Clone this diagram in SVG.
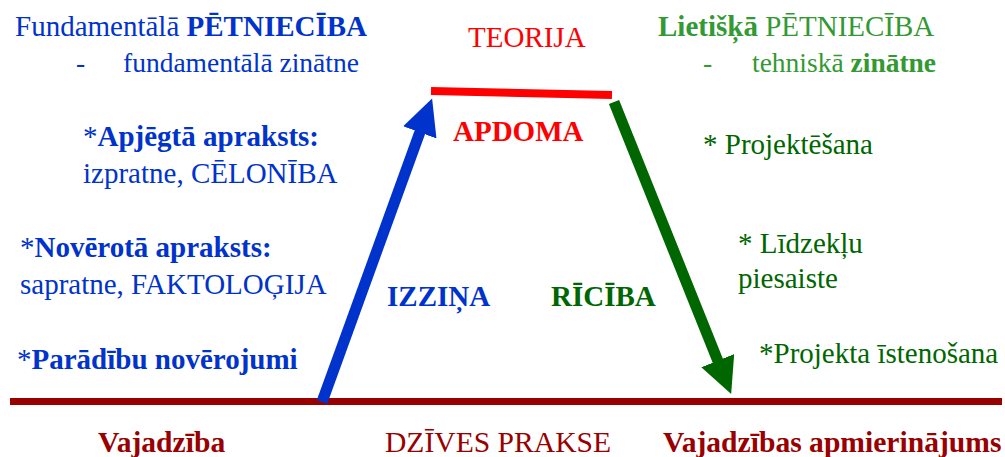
<svg xmlns="http://www.w3.org/2000/svg" width="1005" height="457" viewBox="0 0 1005 457">
<style>
text{font-family:"Liberation Serif","Times New Roman",serif;font-size:29px}
.b{font-weight:bold}
.s{font-size:27.5px}
.l{font-size:29.6px}
.blue{fill:#0033CC}
.red{fill:#FF0000}
.dred{fill:#990000}
.lgreen{fill:#339933}
.dgreen{fill:#006600}
</style>
<defs>
<marker id="hb" markerUnits="userSpaceOnUse" markerWidth="40" markerHeight="40" refX="2" refY="17.7" orient="auto" viewBox="0 0 40 40"><path d="M0,0 L36,17.7 L0,35.4 Z" fill="#0033CC"/></marker>
<marker id="hg" markerUnits="userSpaceOnUse" markerWidth="40" markerHeight="40" refX="2" refY="17.7" orient="auto" viewBox="0 0 40 40"><path d="M0,0 L36,17.7 L0,35.4 Z" fill="#006600"/></marker>
</defs>
<rect width="1005" height="457" fill="#fff"/>
<g id="connectors">
<line id="base-line" x1="10" y1="401.5" x2="1002" y2="401.5" stroke="#990000" stroke-width="7"/>
<line id="theory-line" x1="431" y1="91" x2="612" y2="95" stroke="#FF0000" stroke-width="8"/>
<line id="izzina-arrow" x1="322" y1="402" x2="420.5" y2="130.5" stroke="#0033CC" stroke-width="11" marker-end="url(#hb)"/>
<line id="riciba-arrow" x1="614" y1="102" x2="718.5" y2="362.5" stroke="#006600" stroke-width="11" marker-end="url(#hg)"/>
</g>
<g id="fund">
<text x="15" y="36" class="blue">Fundamentālā <tspan class="b">PĒTNIECĪBA</tspan></text>
<text x="76" y="72" class="blue s">-</text>
<text x="123" y="72" class="blue s">fundamentālā zinātne</text>
</g>
<g id="teorija"><text x="468" y="47" class="red">TEORIJA</text></g>
<g id="liet">
<text x="658" y="36" class="lgreen"><tspan class="b">Lietišķā</tspan> PĒTNIECĪBA</text>
<text x="703" y="72" class="lgreen s">-</text>
<text x="752" y="72" class="lgreen s">tehniskā <tspan class="b">zinātne</tspan></text>
</g>
<g id="apdoma"><text x="453" y="141" class="red b">APDOMA</text></g>
<g id="apjegta">
<text x="83" y="146" class="blue">*<tspan class="b">Apjēgtā apraksts:</tspan></text>
<text x="83" y="183" class="blue">izpratne, CĒLONĪBA</text>
</g>
<g id="noverota">
<text x="20" y="257" class="blue">*<tspan class="b">Novērotā apraksts:</tspan></text>
<text x="20" y="294" class="blue">sapratne, FAKTOLOĢIJA</text>
</g>
<g id="paradibu"><text x="17" y="369" class="blue">*<tspan class="b">Parādību novērojumi</tspan></text></g>
<g id="izzina"><text x="387" y="306" class="blue b">IZZIŅA</text></g>
<g id="riciba"><text x="551" y="306" class="dgreen b">RĪCĪBA</text></g>
<g id="projektesana"><text x="703" y="154" class="dgreen">* Projektēšana</text></g>
<g id="lidzeklu">
<text x="738" y="253" class="dgreen">* Līdzekļu</text>
<text x="738" y="288" class="dgreen">piesaiste</text>
</g>
<g id="istenosana"><text x="759" y="363" class="dgreen">*Projekta īstenošana</text></g>
<g id="vajadziba"><text x="98" y="452" class="dred b l">Vajadzība</text></g>
<g id="dzives"><text x="385" y="452" class="dred l">DZĪVES PRAKSE</text></g>
<g id="apmierinajums"><text x="663" y="452" class="dred b l">Vajadzības apmierinājums</text></g>
</svg>
